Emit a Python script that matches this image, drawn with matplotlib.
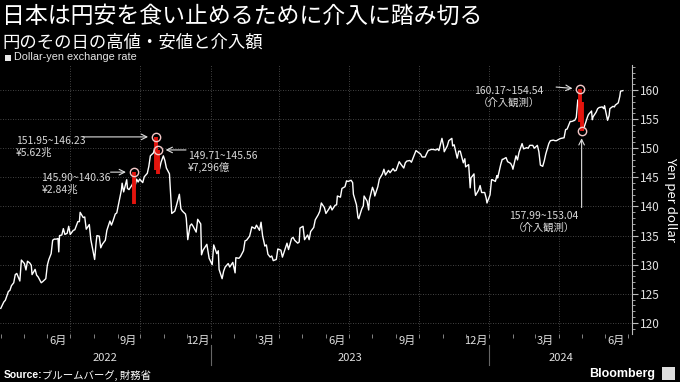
import pandas as pd
import matplotlib.pyplot as plt
import matplotlib.dates as mdates
import matplotlib.transforms as mtransforms
from matplotlib.patches import Rectangle
from matplotlib.ticker import MultipleLocator

plt.rcParams['font.family'] = ['Noto Sans CJK JP', 'DejaVu Sans']

d22 = ['04-01', '04-05', '04-07', '04-11', '04-13', '04-15', '04-18', '04-20', '04-22', '04-26', '04-28',
       '05-02', '05-04', '05-06', '05-09', '05-11', '05-12', '05-16', '05-18', '05-20', '05-24', '05-26', '05-30',
       '06-01', '06-03', '06-06', '06-08', '06-10', '06-13', '06-15', '06-16', '06-17', '06-20', '06-22', '06-24', '06-27', '06-29',
       '07-01', '07-05', '07-07', '07-11', '07-13', '07-14', '07-18', '07-20', '07-22', '07-26', '07-28',
       '08-01', '08-02', '08-04', '08-05', '08-08', '08-10', '08-12', '08-16', '08-18', '08-22', '08-24', '08-26', '08-29', '08-31',
       '09-02', '09-06', '09-07', '09-09', '09-13', '09-14', '09-16', '09-20', '09-21', '09-22', '09-26', '09-28', '09-30',
       '10-04', '10-06', '10-10', '10-12', '10-14', '10-18', '10-20', '10-21', '10-24', '10-26', '10-28', '10-31',
       '11-02', '11-04', '11-08', '11-10', '11-11', '11-15', '11-17', '11-21', '11-23', '11-25', '11-29', '11-30',
       '12-02', '12-05', '12-07', '12-09', '12-13', '12-15', '12-19', '12-20', '12-22', '12-27', '12-30']
v22 = [122.5, 123.6, 123.9, 125.4, 125.6, 126.4, 126.9, 128.3, 128.5, 127.2, 130.8,
       130.2, 129.1, 130.6, 130.3, 129.9, 128.3, 129.2, 128.2, 127.9, 126.9, 127.1, 127.6,
       129.9, 130.9, 131.9, 134.2, 134.4, 134.4, 134.5, 132.2, 135.0, 135.1, 136.2, 135.2, 135.4, 136.6,
       135.2, 135.9, 136.0, 137.4, 137.4, 139.0, 138.1, 138.2, 136.1, 136.9, 134.3,
       131.6, 130.9, 133.9, 135.0, 134.9, 132.9, 133.5, 134.2, 135.9, 137.5, 136.8, 137.5, 138.7, 138.9,
       140.2, 142.8, 144.0, 142.5, 144.6, 143.1, 142.9, 143.7, 144.0, 142.4, 144.7, 144.2, 144.7,
       144.1, 145.1, 145.7, 146.9, 148.7, 149.2, 150.1, 147.7, 148.9, 146.4, 147.6, 148.7,
       147.9, 146.6, 145.6, 141.0, 138.8, 139.2, 140.1, 142.1, 139.6, 139.2, 138.7, 138.0,
       134.3, 136.7, 137.0, 136.6, 135.6, 137.8, 137.0, 131.7, 132.5, 133.5, 131.1]

d23 = ['01-03', '01-05', '01-09', '01-11', '01-12', '01-16', '01-18', '01-20', '01-24', '01-26', '01-30',
       '02-02', '02-03', '02-07', '02-09', '02-13', '02-15', '02-17', '02-21', '02-24', '02-28',
       '03-02', '03-06', '03-08', '03-10', '03-13', '03-15', '03-17', '03-20', '03-22', '03-24', '03-28', '03-30',
       '04-03', '04-05', '04-07', '04-11', '04-13', '04-17', '04-19', '04-21', '04-25', '04-27', '04-28',
       '05-02', '05-04', '05-08', '05-10', '05-12', '05-16', '05-18', '05-22', '05-24', '05-26', '05-30',
       '06-01', '06-05', '06-07', '06-09', '06-13', '06-15', '06-16', '06-20', '06-22', '06-26', '06-28', '06-30',
       '07-04', '07-06', '07-07', '07-11', '07-13', '07-14', '07-18', '07-20', '07-21', '07-25', '07-27', '07-28',
       '08-01', '08-03', '08-04', '08-08', '08-10', '08-14', '08-16', '08-18', '08-22', '08-24', '08-28', '08-30',
       '09-01', '09-05', '09-07', '09-11', '09-13', '09-15', '09-19', '09-21', '09-25', '09-27', '09-29',
       '10-03', '10-05', '10-09', '10-11', '10-13', '10-17', '10-19', '10-23', '10-25', '10-27', '10-31',
       '11-02', '11-03', '11-07', '11-09', '11-13', '11-14', '11-16', '11-20', '11-22', '11-24', '11-28', '11-30',
       '12-01', '12-05', '12-07', '12-08', '12-12', '12-13', '12-14', '12-18', '12-20', '12-22', '12-26', '12-28', '12-29']
v23 = [130.0, 133.4, 131.9, 132.4, 129.2, 127.6, 128.9, 129.6, 130.2, 129.6, 130.4,
       128.6, 131.2, 131.1, 131.4, 132.4, 134.1, 134.2, 134.9, 136.5, 136.2,
       136.8, 135.9, 137.3, 135.0, 133.2, 133.4, 131.8, 131.3, 131.5, 130.7, 130.9, 132.7,
       132.5, 131.3, 132.1, 133.7, 132.6, 134.5, 134.7, 134.2, 133.7, 133.9, 136.3,
       136.6, 134.3, 135.1, 134.3, 135.7, 136.4, 137.7, 138.6, 139.2, 140.6, 139.8,
       138.8, 139.6, 140.1, 139.4, 140.2, 140.3, 141.8, 141.6, 143.1, 143.4, 144.4, 144.3,
       144.5, 144.1, 142.1, 140.3, 138.1, 137.9, 139.6, 140.1, 141.8, 140.9, 139.4, 141.2,
       143.3, 142.6, 141.8, 143.4, 144.7, 145.6, 146.4, 145.4, 146.2, 145.8, 146.5, 146.1,
       146.2, 147.7, 147.3, 146.6, 147.5, 147.8, 147.9, 147.6, 148.9, 149.6, 149.4,
       149.0, 148.5, 148.5, 149.1, 149.6, 149.8, 149.8, 149.7, 149.9, 149.6, 151.7,
       150.5, 149.4, 150.4, 151.3, 151.7, 150.4, 150.6, 148.3, 149.5, 149.5, 147.5, 148.2,
       146.8, 147.2, 143.2, 144.9, 145.6, 142.9, 141.9, 142.8, 143.6, 142.4, 142.4, 141.4, 140.6]

d24 = ['01-02', '01-04', '01-05', '01-09', '01-11', '01-12', '01-16', '01-18', '01-19', '01-23', '01-25', '01-29', '01-31',
       '02-01', '02-05', '02-07', '02-09', '02-13', '02-15', '02-19', '02-21', '02-23', '02-27', '02-29',
       '03-04', '03-06', '03-08', '03-11', '03-13', '03-15', '03-19', '03-21', '03-25', '03-27', '03-29',
       '04-02', '04-04', '04-08', '04-10', '04-12', '04-16', '04-18', '04-22', '04-24', '04-26', '04-29', '04-30',
       '05-01', '05-03', '05-07', '05-09', '05-10', '05-14', '05-15', '05-16', '05-20', '05-22', '05-24', '05-28', '05-30', '05-31',
       '06-04', '06-06', '06-07', '06-11', '06-13', '06-14', '06-18', '06-20', '06-21', '06-24']
v24 = [142.0, 144.6, 144.6, 144.3, 145.3, 144.9, 147.2, 148.1, 148.1, 148.4, 147.7, 147.4, 146.9,
       146.4, 148.7, 148.0, 149.3, 150.8, 149.9, 150.1, 150.0, 150.5, 150.5, 150.0,
       150.5, 149.4, 147.1, 146.9, 147.8, 149.0, 150.8, 151.3, 151.4, 151.3, 151.3,
       151.6, 151.7, 151.8, 153.2, 153.3, 154.6, 154.6, 154.8, 155.3, 158.3, 156.3, 157.8,
       155.0, 153.1, 154.7, 155.5, 155.8, 156.4, 154.9, 155.4, 156.2, 156.8, 157.0, 157.1, 156.8, 157.3,
       154.8, 155.6, 156.8, 157.2, 157.1, 157.4, 157.8, 158.9, 159.8, 159.9]

# intervention days (day high / low)
iv_dates = ['2022-09-22', '2022-10-21', '2022-10-24', '2024-04-29', '2024-05-01']
iv_high = [145.90, 151.95, 149.71, 160.17, 157.99]
iv_low = [140.36, 146.23, 145.56, 154.54, 153.04]
iv_labels = ['145.90~140.36\n¥2.84兆', '151.95~146.23\n¥5.62兆', '149.71~145.56\n¥7,296億',
             '160.17~154.54\n（介入観測）', '157.99~153.04\n（介入観測）']
circle_on = ['high', 'high', 'high', 'high', 'low']

month_ticks = ['2022-06-15', '2022-09-15', '2022-12-15', '2023-03-15', '2023-06-15',
               '2023-09-15', '2023-12-15', '2024-03-15', '2024-06-15']
month_labels = ['6月', '9月', '12月', '3月', '6月', '9月', '12月', '3月', '6月']
years = ['2022', '2023', '2024']
quarter_lines = ['2022-07-01', '2022-10-01', '2023-01-01', '2023-04-01', '2023-07-01',
                 '2023-10-01', '2024-01-01', '2024-04-01']

dates = pd.to_datetime(['2022-' + d for d in d22] + ['2023-' + d for d in d23] + ['2024-' + d for d in d24])
usdjpy = v22 + v23 + v24
iv_dt = pd.to_datetime(iv_dates)

fig = plt.figure(figsize=(6.8, 3.82), dpi=100, facecolor='black')
ax = fig.add_axes([0, 48 / 382, 632 / 680, 269 / 382], facecolor='black')

x0, x1 = pd.Timestamp('2022-03-31'), pd.Timestamp('2024-07-06')
ax.set_xlim(x0, x1)
ax.set_ylim(118.1, 164.3)

# grid
ax.set_yticks(range(120, 161, 5))
ax.yaxis.set_minor_locator(MultipleLocator(1))
ax.yaxis.grid(True, which='major', color='#5a5a5a', lw=0.6, ls=(0, (1, 2)))
for q in quarter_lines:
    ax.axvline(pd.Timestamp(q), color='#5a5a5a', lw=0.6, ls=(0, (1, 2)), zorder=0)

ax.plot(dates, usdjpy, color='white', lw=1.0, zorder=2)
ax.vlines(iv_dt, iv_low, iv_high, color='#e3140d', lw=2.8, zorder=3)

circ_vals = [h if c == 'high' else l for h, l, c in zip(iv_high, iv_low, circle_on)]
ax.plot(iv_dt, circ_vals, 'o', ms=6, mfc='none', mec='#f4c8c8', mew=1.0, zorder=4)

# annotations: arrow tail and text offset (pixels from the circle)
arrow_tail = [(-23, 0), (-73, 0), (28, 0), (-24, 2), (0, -77)]
text_pos = [(-92, -12), (-140, -10), (30, -12), (-71, -8), (-38, -91)]
text_ha = ['left', 'left', 'left', 'center', 'center']
for d, v, lab, tail, tp, ha in zip(iv_dt, circ_vals, iv_labels, arrow_tail, text_pos, text_ha):
    ax.annotate('', xy=(d, v), xytext=tail, textcoords='offset pixels',
                arrowprops=dict(arrowstyle='->', color='#dddddd', lw=0.8, shrinkA=0, shrinkB=5.5))
    ax.annotate(lab, xy=(d, v), xytext=tp, textcoords='offset pixels', ha=ha, va='center',
                color='#d8d8d8', fontsize=7.5, linespacing=1.15)

# axes styling
for s in ['top', 'left', 'bottom']:
    ax.spines[s].set_visible(False)
ax.spines['right'].set_color('#bbbbbb')
ax.spines['right'].set_linewidth(0.8)
ax.yaxis.tick_right()
ax.yaxis.set_label_position('right')
ax.tick_params(axis='y', which='major', length=4, color='#bbbbbb', labelcolor='#e0e0e0', labelsize=8.5, pad=2)
ax.tick_params(axis='y', which='minor', length=2, color='#bbbbbb')
ax.set_ylabel('Yen per dollar', rotation=270, color='white', fontsize=9.5, labelpad=12)

ax.set_xticks(pd.to_datetime(month_ticks))
ax.set_xticklabels(month_labels)
ax.xaxis.set_minor_locator(mdates.MonthLocator())
ax.tick_params(axis='x', which='major', length=0, labelcolor='#e0e0e0', labelsize=8, pad=1)
ax.tick_params(axis='x', which='minor', length=3, color='#999999')

# year labels and separators
trans = mtransforms.blended_transform_factory(ax.transData, ax.transAxes)
bounds = [x0, pd.Timestamp('2023-01-01'), pd.Timestamp('2024-01-01'), x1]
for i, y in enumerate(years):
    mid = bounds[i] + (bounds[i + 1] - bounds[i]) / 2
    ax.text(mid, -0.088, y, transform=trans, ha='center', va='center', color='#e0e0e0', fontsize=8)
for b in bounds[1:3]:
    ax.plot([b, b], [-0.04, -0.115], transform=trans, color='#666666', lw=0.8, clip_on=False)

# titles, legend, footer
fig.text(0.003, 1 - 16 / 382, '日本は円安を食い止めるために介入に踏み切る', color='white', fontsize=16.5, va='center')
fig.text(0.003, 1 - 43 / 382, '円のその日の高値・安値と介入額', color='white', fontsize=12.5, va='center')
fig.patches.append(Rectangle((5 / 680, 1 - 61 / 382), 6 / 680, 6 / 382, transform=fig.transFigure,
                             facecolor='#e8e8e8', edgecolor='none'))
fig.text(14 / 680, 1 - 57.5 / 382, 'Dollar-yen exchange rate', color='#e8e8e8', fontsize=7.8,
         family='Liberation Sans', va='center')
fig.text(4 / 680, 7 / 382, 'Source:', color='white', fontsize=7.5, weight='bold', va='center',
         family='Liberation Sans')
fig.text(42 / 680, 7 / 382, 'ブルームバーグ, 財務省', color='white', fontsize=7.5, va='center')
fig.text(655 / 680, 8 / 382, 'Bloomberg', color='white', fontsize=9, weight='bold', va='center', ha='right',
         family='Liberation Sans')
fig.patches.append(Rectangle((662 / 680, 2 / 382), 13 / 680, 13 / 382, transform=fig.transFigure,
                             facecolor='#dddddd', edgecolor='none'))

fig.savefig('out.png', dpi=100, facecolor='black')
